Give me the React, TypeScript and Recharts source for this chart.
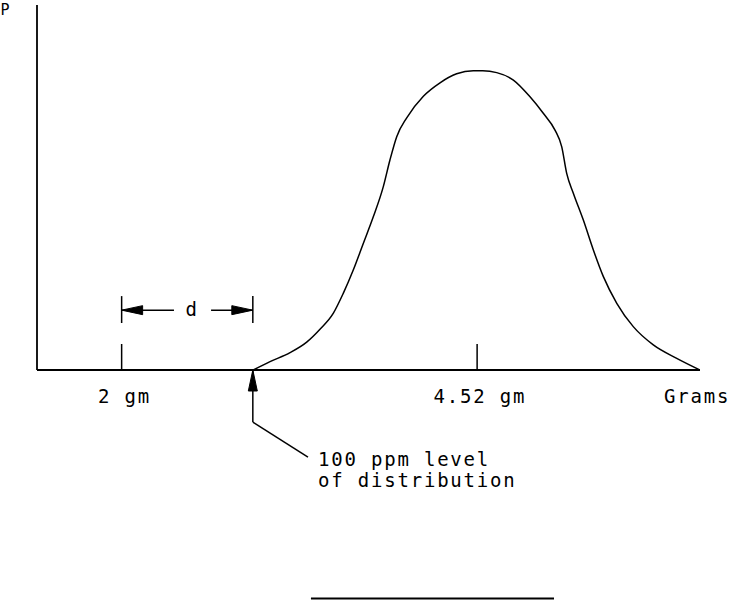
import React from 'react';
import { LineChart, Line, XAxis, YAxis, ReferenceLine, ReferenceDot } from 'recharts';

// Distribution curve (grams vs relative probability)
const GRAMS = [2.933, 3.052, 3.194, 3.312, 3.406, 3.501, 3.571, 3.642, 3.713, 3.784, 3.855, 3.902, 3.95, 4.021, 4.139, 4.257, 4.375, 4.493, 4.56, 4.659, 4.777, 4.895, 4.989, 5.072, 5.12, 5.155, 5.202, 5.273, 5.344, 5.415, 5.51, 5.627, 5.769, 5.935, 6.1];
const DENSITY = [0, 0.028, 0.058, 0.093, 0.136, 0.19, 0.256, 0.334, 0.423, 0.512, 0.613, 0.702, 0.78, 0.843, 0.915, 0.96, 0.99, 1.0, 1.0, 0.994, 0.969, 0.913, 0.858, 0.802, 0.746, 0.657, 0.591, 0.501, 0.401, 0.312, 0.223, 0.145, 0.084, 0.039, 0];

const X_DOMAIN = [1.4, 6.1];
const Y_DOMAIN = [0, 1.22];

const TICK_VALUES = [2, 4.52];
const TICK_LABELS = ['2 gm', '4.52 gm'];
const X_TITLE = 'Grams';
const Y_TITLE = 'P';
const LEVEL_X = 2.93; // 100 ppm level
const NOTE_LINES = ['100 ppm level', 'of distribution'];
const D_LABEL = 'd';

const data = GRAMS.map((g, i) => ({ g, p: DENSITY[i] }));

const FONT = '"DejaVu Sans Mono", monospace';
const INK = '#000';

const textShape = (label: string, anchor: 'start' | 'middle' | 'end', size = 19, spacing = 1.8) => (p: any) => (
  <text x={p.cx} y={p.cy} textAnchor={anchor} fontFamily={FONT} fontSize={size} letterSpacing={spacing} fill={INK}>
    {label}
  </text>
);

const arrowShape = (dir: 'left' | 'right' | 'up') => (p: any) => {
  const { cx, cy } = p;
  const L = 21;
  const W = 4.5;
  let pts = '';
  if (dir === 'left') pts = `${cx},${cy} ${cx + L},${cy - W} ${cx + L},${cy + W}`;
  if (dir === 'right') pts = `${cx},${cy} ${cx - L},${cy - W} ${cx - L},${cy + W}`;
  if (dir === 'up') pts = `${cx},${cy} ${cx - W},${cy + L} ${cx + W},${cy + L}`;
  return <polygon points={pts} fill={INK} stroke={INK} strokeWidth={1} />;
};

export default function App() {
  const seg = (x1: number, y1: number, x2: number, y2: number, w = 1.5) => (
    <ReferenceLine
      key={`${x1}-${y1}-${x2}-${y2}`}
      segment={[{ x: x1, y: y1 }, { x: x2, y: y2 }]}
      stroke={INK}
      strokeWidth={w}
      ifOverflow="visible"
    />
  );
  return (
    <div style={{ position: 'absolute', left: 0, top: 0, background: '#fff' }}>
      <LineChart width={731} height={600} data={data} margin={{ top: 5, right: 31, bottom: 230, left: 37 }}>
        <XAxis dataKey="g" type="number" domain={X_DOMAIN} hide allowDataOverflow />
        <YAxis type="number" domain={Y_DOMAIN} hide allowDataOverflow />
        {/* axes */}
        {seg(X_DOMAIN[0], 0, X_DOMAIN[0], Y_DOMAIN[1], 1.8)}
        {seg(X_DOMAIN[0], 0, X_DOMAIN[1], 0, 1.8)}
        {/* tick marks */}
        {TICK_VALUES.map((v) => seg(v, 0, v, 0.087, 1.5))}
        {/* d dimension */}
        {seg(TICK_VALUES[0], 0.157, TICK_VALUES[0], 0.247, 1.5)}
        {seg(LEVEL_X, 0.157, LEVEL_X, 0.247, 1.5)}
        {seg(TICK_VALUES[0], 0.2, 2.371, 0.2, 1.5)}
        {seg(2.634, 0.2, LEVEL_X, 0.2, 1.5)}
        {/* leader to note */}
        {seg(LEVEL_X, 0, LEVEL_X, -0.174, 1.5)}
        {seg(LEVEL_X, -0.174, 3.321, -0.291, 1.5)}
        {/* bottom rule */}
        {seg(3.342, -0.764, 5.065, -0.764, 2)}
        <Line type="monotone" dataKey="p" stroke={INK} strokeWidth={1.5} dot={false} activeDot={false} isAnimationActive={false} />
        <ReferenceDot x={TICK_VALUES[0]} y={0.2} r={0} ifOverflow="visible" shape={arrowShape('left')} />
        <ReferenceDot x={LEVEL_X} y={0.2} r={0} ifOverflow="visible" shape={arrowShape('right')} />
        <ReferenceDot x={LEVEL_X} y={0} r={0} ifOverflow="visible" shape={arrowShape('up')} />
        <ReferenceDot x={2.5} y={0.181} r={0} ifOverflow="visible" shape={textShape(D_LABEL, 'middle')} />
        {TICK_VALUES.map((v, i) => (
          <ReferenceDot key={TICK_LABELS[i]} x={v + 0.02} y={-0.11} r={0} ifOverflow="visible" shape={textShape(TICK_LABELS[i], 'middle')} />
        ))}
        <ReferenceDot x={6.079} y={-0.11} r={0} ifOverflow="visible" shape={textShape(X_TITLE, 'middle')} />
        <ReferenceDot x={1.142} y={1.187} r={0} ifOverflow="visible" shape={textShape(Y_TITLE, 'start', 15, 0)} />
        <ReferenceDot x={3.392} y={-0.321} r={0} ifOverflow="visible" shape={textShape(NOTE_LINES[0], 'start')} />
        <ReferenceDot x={3.392} y={-0.391} r={0} ifOverflow="visible" shape={textShape(NOTE_LINES[1], 'start')} />
      </LineChart>
    </div>
  );
}
